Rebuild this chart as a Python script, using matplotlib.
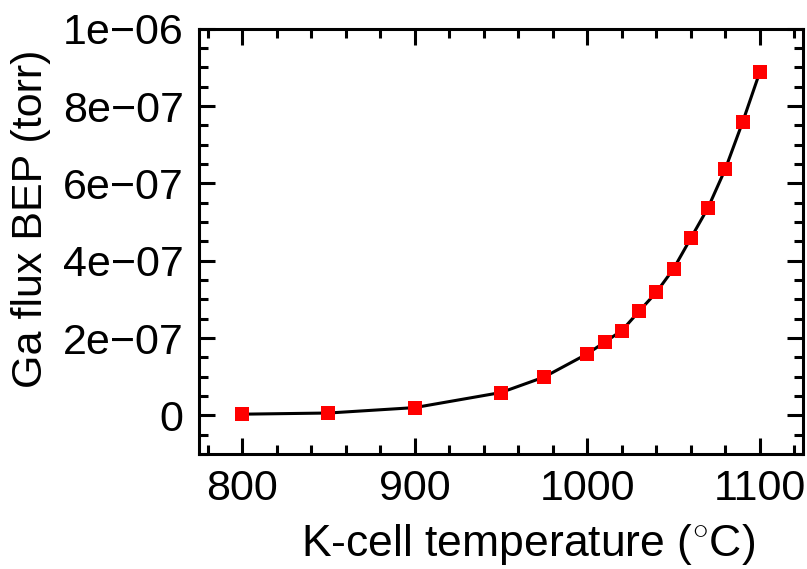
import matplotlib
matplotlib.use("Agg")
import matplotlib.pyplot as plt
from matplotlib.ticker import MultipleLocator, FixedLocator, FixedFormatter

# Temperatura de la celda K (°C) y flujo de Ga medido (torr)
temperatura = [800, 850, 900, 950, 975, 1000, 1010, 1020, 1030, 1040,
               1050, 1060, 1070, 1080, 1090, 1100]
flujo = [3e-9, 6e-9, 2.0e-8, 5.9e-8, 9.9e-8, 1.59e-7, 1.89e-7, 2.19e-7,
         2.69e-7, 3.18e-7, 3.79e-7, 4.58e-7, 5.37e-7, 6.37e-7, 7.58e-7, 8.88e-7]

y_ticks = [0, 2e-7, 4e-7, 6e-7, 8e-7, 1e-6]
y_tick_labels = ["0", "2e\u221207", "4e\u221207", "6e\u221207", "8e\u221207", "1e\u221206"]

plt.rcParams['font.family'] = ['Liberation Sans', 'DejaVu Sans']
plt.rcParams['mathtext.fontset'] = 'custom'
plt.rcParams['mathtext.rm'] = 'Liberation Sans'

fig = plt.figure(figsize=(8.07, 5.69), dpi=100)
ax = fig.add_axes([0.2466, 0.2021, 0.7484, 0.7475])

ax.plot(temperatura, flujo, '-', color='black', linewidth=2.2, zorder=2)
ax.plot(temperatura, flujo, 's', color='#ff0000', markersize=9.5,
        markeredgewidth=0, zorder=3)

ax.set_xlim(775, 1125)
ax.set_ylim(-1e-7, 1e-6)

ax.xaxis.set_major_locator(MultipleLocator(100))
ax.xaxis.set_minor_locator(MultipleLocator(20))
ax.yaxis.set_major_locator(FixedLocator(y_ticks))
ax.yaxis.set_major_formatter(FixedFormatter(y_tick_labels))
ax.yaxis.set_minor_locator(MultipleLocator(5e-8))

ax.tick_params(which='both', direction='in', top=True, right=True, width=2.2)
ax.tick_params(which='major', length=11.5, labelsize=31, pad=11)
ax.tick_params(which='minor', length=6.5)

for s in ax.spines.values():
    s.set_linewidth(2.2)

ax.set_xlabel('K-cell temperature ($^{\\circ}$C)', fontsize=32)
ax.set_ylabel('Ga flux BEP (torr)', fontsize=31)
ax.xaxis.set_label_coords(0.544, -0.16)
ax.yaxis.set_label_coords(-0.245, 0.554)

fig.savefig('out.png', dpi=100)
